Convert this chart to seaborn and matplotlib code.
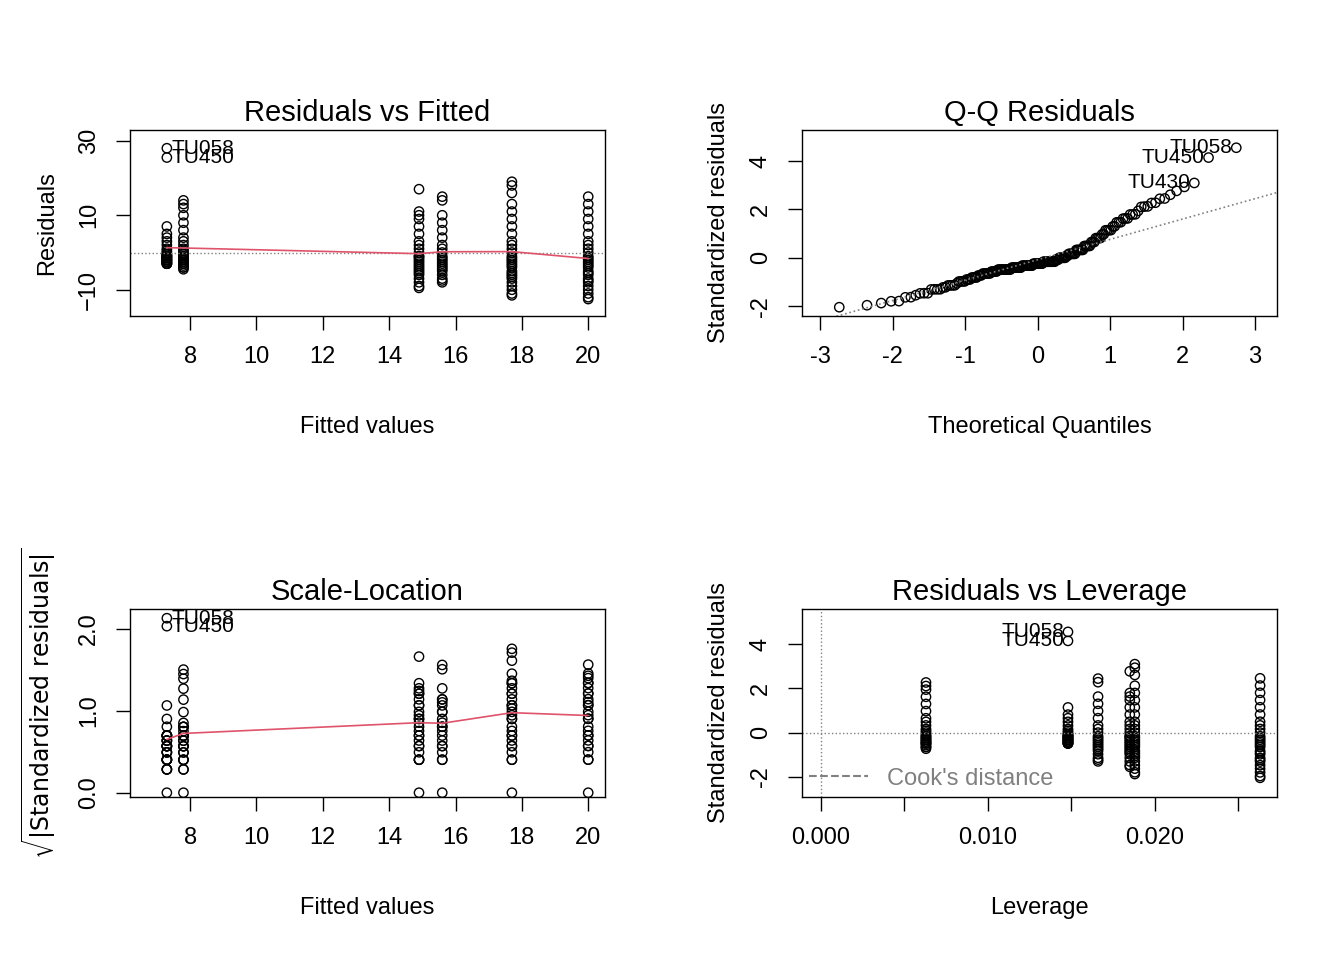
import numpy as np
import pandas as pd
import seaborn as sns
import matplotlib.pyplot as plt
from statistics import NormalDist

fitted_levels = [7.3, 7.8, 14.9, 15.6, 17.7, 20.0]
leverage_levels = [0.0148, 0.0063, 0.0185, 0.0166, 0.0188, 0.0263]
res_g1 = [28, 25.5, 7, 5, 4, 3, 2, 1, 0.5, 0, -0.5, -1, -1, -1.5, -1.5, -2, -2, -2.5, -2.5, -3,
          -3, -3, -2, -1.5, -1, -2.5, -3, -2, -1, -0.5]
res_g2 = [14, 13, 12, 10, 8, 6, 4, 3, 2, 1, 0, -0.5, -1, -1.5, -2, -2.5, -3, -3, -3.5, -4,
          -4, -4.5, -2, -1, -3, -2.5, 0.5, -1.5]
res_g3 = [17, 11, 10, 9, 7, 5, 3, 2, 1, 0, -1, -1.5, -2, -3, -3.5, -4, -5, -6, -7, -8, -9, -9.5,
          -2.5, -4.5, -5.5, -1]
res_g4 = [15, 14, 10, 8, 6, 4, 2, 1, 0, -1, -1.5, -2, -3, -3.5, -4, -5, -6, -7, -7.5, -8, -2.5, -4.5]
res_g5 = [19, 18, 16, 13, 11, 9, 7, 5, 3, 2, 1, 0, -1, -2, -3, -4, -5, -6, -7, -8, -9, -10, -11,
          -11.5, -1.5, -3.5, -5.5, -6.5, -2.5]
res_g6 = [15, 13, 11, 9, 7, 5, 3, 2, 1, 0, -1, -2, -3, -4, -5, -6, -7, -8, -9, -10, -11, -12,
          -12.5, -1.5, -3.5, -5.5, -7.5, -2.5]
sigma = 6.2
labels_top = ["TU058", "TU450", "TU430"]

groups = [res_g1, res_g2, res_g3, res_g4, res_g5, res_g6]
rows = []
for f, h, g in zip(fitted_levels, leverage_levels, groups):
    for r in g:
        rows.append((f, h, r))
df = pd.DataFrame(rows, columns=["fitted", "lev", "resid"])
df["std"] = df["resid"] / (sigma * np.sqrt(1 - df["lev"]))
df["sqrtstd"] = np.sqrt(np.abs(df["std"]))
df["id"] = ""
top = df["resid"].nlargest(3).index
for i, lab in zip(top, labels_top):
    df.loc[i, "id"] = lab

sns.set_style("white")
plt.rcParams["font.family"] = ["Liberation Sans", "DejaVu Sans"]
plt.rcParams["text.color"] = "black"
plt.rcParams["axes.labelcolor"] = "black"
plt.rcParams["xtick.color"] = "black"
plt.rcParams["ytick.color"] = "black"
fig = plt.figure(figsize=(13.44, 9.6), dpi=100)
W, H = 0.353, 0.194
axes = [fig.add_axes([0.097, 0.671, W, H]), fig.add_axes([0.597, 0.671, W, H]),
        fig.add_axes([0.097, 0.170, W, 0.196]), fig.add_axes([0.597, 0.170, W, 0.196])]

pt = dict(facecolor="none", edgecolor="black", s=45, linewidth=1, legend=False)

def style(ax, title, xlabel, ylabel):
    ax.set_title(title, fontsize=21, pad=6)
    ax.set_xlabel(xlabel, fontsize=17, labelpad=34)
    ax.set_ylabel(ylabel, fontsize=17, labelpad=14)
    for s in ax.spines.values():
        s.set_color("black")
        s.set_linewidth(1)
    ax.tick_params(direction="out", length=10, width=1, pad=12, labelsize=17,
                   bottom=True, left=True, color="black")
    for t in ax.get_yticklabels():
        t.set_rotation(90)
        t.set_va("center")

def labels(ax, sub, xcol, ycol, n=2):
    for _, r in sub.head(n).iterrows():
        ax.text(r[xcol] + 0.15, r[ycol], r["id"], fontsize=15, va="center", ha="left")

means = df.groupby("fitted")[["resid", "sqrtstd"]].mean().reset_index()

# Residuals vs Fitted
ax = axes[0]
sns.scatterplot(data=df, x="fitted", y="resid", ax=ax, **pt)
ax.axhline(0, color="grey", ls=":", lw=1)
sns.lineplot(data=means, x="fitted", y="resid", ax=ax, color="#DF536B", lw=1.2)
labels(ax, df.loc[top], "fitted", "resid")
ax.set_xlim(6.2, 20.5); ax.set_ylim(-17, 33)
ax.set_xticks([8, 10, 12, 14, 16, 18, 20]); ax.set_yticks([-10, 10, 30])
style(ax, "Residuals vs Fitted", "Fitted values", "Residuals")

# Q-Q
ax = axes[1]
sv = np.sort(df["std"].values)
n = len(sv)
q = np.array([NormalDist().inv_cdf((i + 0.5) / n) for i in range(n)])
qq = pd.DataFrame({"q": q, "s": sv})
sns.scatterplot(data=qq, x="q", y="s", ax=ax, **pt)
q1, q3 = np.quantile(sv, [0.25, 0.75])
z1, z3 = NormalDist().inv_cdf(0.25), NormalDist().inv_cdf(0.75)
slope = (q3 - q1) / (z3 - z1)
xs = np.array([-3.6, 3.6])
ax.plot(xs, q1 + slope * (xs - z1), color="grey", ls=":", lw=1.2)
for j, lab in enumerate(labels_top):
    ax.text(qq["q"].iloc[n - 1 - j] - 0.06, qq["s"].iloc[n - 1 - j], lab, fontsize=15, ha="right", va="center")
ax.set_xlim(-3.25, 3.3); ax.set_ylim(-2.4, 5.3)
ax.set_xticks([-3, -2, -1, 0, 1, 2, 3]); ax.set_yticks([-2, 0, 2, 4])
ax.set_xticklabels(["-3", "-2", "-1", "0", "1", "2", "3"]); ax.set_yticklabels(["-2", "0", "2", "4"])
style(ax, "Q-Q Residuals", "Theoretical Quantiles", "Standardized residuals")

# Scale-Location
ax = axes[2]
sns.scatterplot(data=df, x="fitted", y="sqrtstd", ax=ax, **pt)
sns.lineplot(data=means, x="fitted", y="sqrtstd", ax=ax, color="#DF536B", lw=1.2)
labels(ax, df.loc[top], "fitted", "sqrtstd")
ax.set_xlim(6.2, 20.5); ax.set_ylim(-0.05, 2.25)
ax.set_xticks([8, 10, 12, 14, 16, 18, 20]); ax.set_yticks([0.0, 1.0, 2.0])
ax.set_yticklabels(["0.0", "1.0", "2.0"])
style(ax, "Scale-Location", "Fitted values", r"$\sqrt{|\mathrm{Standardized\ residuals}|}$")

# Residuals vs Leverage
ax = axes[3]
sns.scatterplot(data=df, x="lev", y="std", ax=ax, **pt)
ax.axhline(0, color="grey", ls=":", lw=1)
ax.axvline(0, color="grey", ls=":", lw=1)
for _, r in df.loc[top[:2]].iterrows():
    ax.text(r["lev"] - 0.0002, r["std"], r["id"], fontsize=15, ha="right", va="center")
ax.plot([], [], color="grey", ls="--", label="Cook's distance")
ax.legend(loc="lower left", frameon=False, fontsize=17, labelcolor="grey", handlelength=2.5,
          borderaxespad=0.1, borderpad=0.2)
ax.set_xlim(-0.0011, 0.0273); ax.set_ylim(-2.9, 5.6)
ax.set_xticks([0.0, 0.005, 0.01, 0.015, 0.02, 0.025])
ax.set_xticklabels(["0.000", "", "0.010", "", "0.020", ""])
ax.set_yticks([-2, 0, 2, 4]); ax.set_yticklabels(["-2", "0", "2", "4"])
style(ax, "Residuals vs Leverage", "Leverage", "Standardized residuals")

fig.savefig("out.png", dpi=100)
